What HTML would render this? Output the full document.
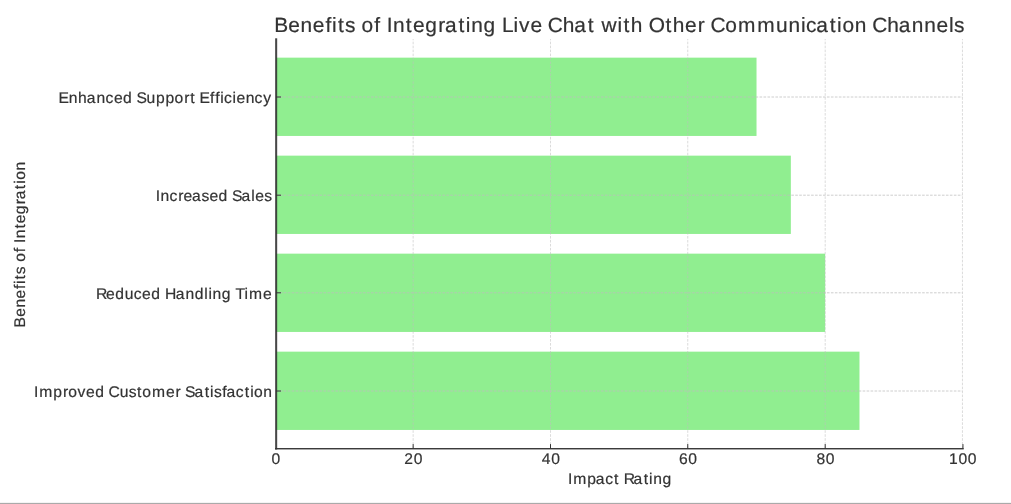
<!DOCTYPE html>
<html><head><meta charset="utf-8"><style>
html,body{margin:0;padding:0;background:#fff;overflow:hidden;}
svg{display:block;will-change:transform;}
text{text-rendering:geometricPrecision;font-family:"Liberation Sans",sans-serif;fill:#333333;stroke:#333333;stroke-width:0.2px;}
.gh{stroke:#bdbdbd;stroke-opacity:0.75;stroke-width:1;stroke-dasharray:2.6 1.365;}
.gv{stroke:#bdbdbd;stroke-opacity:0.55;stroke-width:1;stroke-dasharray:2.6 1.365;}
.t{stroke:#333333;stroke-width:1;}
</style></head><body>
<svg width="1011" height="504" viewBox="0 0 1011 504">
<rect x="0" y="503" width="1011" height="1" fill="#aaaaaa"/>
<rect x="0" y="502" width="1011" height="1" fill="#f4f4f4"/>
<rect x="276.00" y="57.65" width="480.52" height="78.30" fill="#90ee90"/>
<rect x="276.00" y="155.65" width="514.84" height="78.30" fill="#90ee90"/>
<rect x="276.00" y="253.65" width="549.16" height="78.30" fill="#90ee90"/>
<rect x="276.00" y="351.65" width="583.48" height="78.30" fill="#90ee90"/>
<line x1="413.15" y1="448.70" x2="413.15" y2="39.00" class="gv"/>
<line x1="550.50" y1="448.70" x2="550.50" y2="39.00" class="gv"/>
<line x1="687.75" y1="448.70" x2="687.75" y2="39.00" class="gv"/>
<line x1="825.20" y1="448.70" x2="825.20" y2="39.00" class="gv"/>
<line x1="962.45" y1="448.70" x2="962.45" y2="39.00" class="gv"/>
<line x1="275.83" y1="97.00" x2="962.45" y2="97.00" class="gh"/>
<line x1="275.83" y1="195.20" x2="962.45" y2="195.20" class="gh"/>
<line x1="275.83" y1="292.80" x2="962.45" y2="292.80" class="gh"/>
<line x1="275.83" y1="391.00" x2="962.45" y2="391.00" class="gh"/>
<line x1="413.15" y1="448.70" x2="413.15" y2="444.10" class="t"/>
<line x1="550.50" y1="448.70" x2="550.50" y2="444.10" class="t"/>
<line x1="687.75" y1="448.70" x2="687.75" y2="444.10" class="t"/>
<line x1="825.20" y1="448.70" x2="825.20" y2="444.10" class="t"/>
<line x1="962.95" y1="448.70" x2="962.95" y2="444.10" class="t"/>
<line x1="276.00" y1="97.00" x2="281.00" y2="97.00" class="t"/>
<line x1="276.00" y1="195.20" x2="281.00" y2="195.20" class="t"/>
<line x1="276.00" y1="292.80" x2="281.00" y2="292.80" class="t"/>
<line x1="276.00" y1="391.00" x2="281.00" y2="391.00" class="t"/>
<rect x="275" y="38.3" width="1" height="411.20" fill="#333333" fill-opacity="0.78"/>
<rect x="276" y="38.3" width="1" height="411.20" fill="#333333" fill-opacity="0.90"/>
<rect x="277" y="38.3" width="1" height="411.20" fill="#333333" fill-opacity="0.17"/>
<rect x="275" y="448" width="688.70" height="1" fill="#333333" fill-opacity="0.96"/>
<rect x="275" y="449" width="688.70" height="1" fill="#333333" fill-opacity="0.42"/>
<text transform="translate(0 31.57) scale(1.015 1)" x="270.10 283.96 296.09 308.22 320.69 327.15 333.02 339.79 349.87 356.26 368.73 374.77 380.95 387.14 399.88 406.89 418.88 431.82 438.37 451.68 458.82 464.27 476.44 488.45 494.70 505.87 511.44 522.63 534.30 539.70 554.48 565.84 579.15 585.88 592.55 608.36 614.23 621.40 633.27 639.08 655.63 662.79 674.96 687.56 694.61 700.02 714.57 727.17 746.10 764.48 776.87 789.14 794.07 804.28 817.60 824.74 829.94 842.07 853.92 859.33 874.10 885.46 898.35 910.66 922.79 934.87 939.91" y="0" style="font-size:20.607px">Benefits of Integrating Live Chat with Other Communication Channels</text>
<text transform="translate(0 102.54) scale(1.015 1)" x="57.58 67.74 76.95 85.48 95.14 103.99 112.25 121.24 130.25 134.43 144.42 153.78 163.03 172.03 181.48 187.44 192.49 196.51 206.93 212.06 216.90 220.60 228.96 232.91 242.01 250.86 259.35" y="0" style="font-size:15.456px">Enhanced Support Efficiency</text>
<text transform="translate(0 200.54) scale(1.015 1)" x="153.48 158.12 166.98 175.72 180.90 189.27 198.62 206.39 215.38 224.39 228.57 237.89 247.51 251.46 260.25" y="0" style="font-size:15.456px">Increased Sales</text>
<text transform="translate(0 298.54) scale(1.015 1)" x="94.56 104.53 113.52 122.82 131.73 139.99 148.98 157.99 162.52 173.20 182.86 191.99 201.30 205.36 209.44 218.57 227.58 231.94 240.98 245.41 259.12" y="0" style="font-size:15.456px">Reduced Handling Time</text>
<text transform="translate(0 396.54) scale(1.015 1)" x="33.61 38.61 52.52 62.05 67.18 76.38 84.77 93.77 102.77 106.83 117.87 126.85 135.08 140.28 149.73 163.44 172.89 178.19 182.37 191.68 201.67 207.02 210.79 218.95 223.09 232.38 241.09 246.45 250.34 259.45" y="0" style="font-size:15.456px">Improved Customer Satisfaction</text>
<text transform="translate(0 464.25) scale(1.015 1)" x="267.62" y="0" style="font-size:15.456px">0</text>
<text transform="translate(0 464.25) scale(1.015 1)" x="398.16 407.62" y="0" style="font-size:15.456px">20</text>
<text transform="translate(0 464.25) scale(1.015 1)" x="533.85 543.12" y="0" style="font-size:15.456px">40</text>
<text transform="translate(0 464.25) scale(1.015 1)" x="668.92 678.19" y="0" style="font-size:15.456px">60</text>
<text transform="translate(0 464.25) scale(1.015 1)" x="804.35 813.62" y="0" style="font-size:15.456px">80</text>
<text transform="translate(0 464.25) scale(1.015 1)" x="934.93 944.28 953.55" y="0" style="font-size:15.456px">100</text>
<text transform="translate(0 483.74) scale(1.015 1)" x="559.71 564.71 578.62 587.07 596.35 605.06 610.11 614.45 624.16 634.14 639.50 643.59 652.71" y="0" style="font-size:15.456px">Impact Rating</text>
<text transform="translate(24.70 0) rotate(-90) scale(1.015 1)" x="-322.57 -312.18 -303.08 -293.98 -284.62 -279.78 -275.38 -270.30 -262.74 -257.95 -248.59 -244.07 -239.43 -234.79 -225.23 -219.98 -210.98 -201.28 -196.37 -186.38 -181.03 -177.13 -168.03" y="0" style="font-size:15.456px">Benefits of Integration</text>
</svg>
</body></html>
